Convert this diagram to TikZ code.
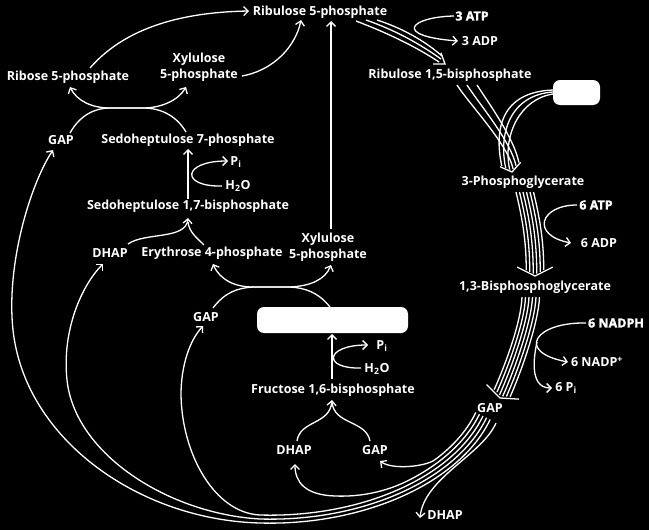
\documentclass[tikz,border=0pt]{standalone}
\usepackage{fontspec}
\setmainfont{Open Sans}
\newfontfamily\heavyfont[BoldFeatures={FakeBold=1.5}]{Open Sans}
\usetikzlibrary{arrows.meta}
\newcommand\vhead[4]{\draw[ln] (#1) +(#2:#4) -- (#1) -- +(#3:#4);}
\begin{document}
\begin{tikzpicture}[x=1pt,y=-1pt,
  ln/.style={draw=white, line width=1.3pt},
  arr/.style={ln, -{Straight Barb[length=4.5pt,width=9pt]}},
  lbl/.style={text=white, inner sep=0pt, font=\bfseries\fontsize{12.5}{16}\selectfont},
  hv/.style={text=white, inner sep=0pt, font=\heavyfont\bfseries\fontsize{12.5}{16}\selectfont},
  blank/.style={fill=white, rounded corners=7pt, inner sep=0pt}]
\fill[black] (0,0) rectangle (649,530);
\useasboundingbox (0,0) rectangle (649,530);

% labels
\node[lbl] (ru5p) at (320,12) {Ribulose 5-phosphate};
\node[hv] (atp3) at (472,16) {3 ATP};
\node[lbl] (adp3) at (480,41) {3 ADP};
\node[lbl] (rubp) at (450,75) {Ribulose 1,5-bisphosphate};
\node[blank, minimum width=47pt, minimum height=25pt] (co2) at (576.5,92.5) {};
\node[lbl] (r5p) at (68,77) {Ribose 5-phosphate};
\node[lbl, align=center] (xu5pA) at (199,67) {Xylulose\\5-phosphate};
\node[lbl] (gapA) at (61,140) {GAP};
\node[lbl] (s7p) at (188,140) {Sedoheptulose 7-phosphate};
\node[lbl] (piA) at (236,162) {P\textsubscript{i}};
\node[lbl] (h2oA) at (238,186) {H\textsubscript{2}O};
\node[lbl] (sbp) at (188,206) {Sedoheptulose 1,7-bisphosphate};
\node[lbl] (dhapA) at (110,253) {DHAP};
\node[lbl] (e4p) at (212,253) {Erythrose 4-phosphate};
\node[lbl, align=center] (xu5pB) at (328,247) {Xylulose\\5-phosphate};
\node[lbl] (gapB) at (206,317) {GAP};
\node[blank, minimum width=151pt, minimum height=26pt] (f6p) at (332.5,320) {};
\node[lbl] (piB) at (382,346) {P\textsubscript{i}};
\node[lbl] (h2oB) at (377,369) {H\textsubscript{2}O};
\node[lbl] (fbp) at (333,390) {Fructose 1,6-bisphosphate};
\node[lbl] (dhapB) at (294,450) {DHAP};
\node[lbl] (gapC) at (375,450) {GAP};
\node[lbl] (dhapOut) at (445,515) {DHAP};
\node[lbl] (gapR) at (490,408) {GAP};
\node[lbl] (pga) at (523,182) {3-Phosphoglycerate};
\node[hv] (atp6) at (596,205) {6 ATP};
\node[lbl] (adp6) at (599,243) {6 ADP};
\node[lbl] (bpg) at (535,287) {1,3-Bisphosphoglycerate};
\node[hv] (nadph) at (616,323) {6 NADPH};
\node[lbl] (nadp) at (597,362) {6 NADP\textsuperscript{+}};
\node[lbl] (pi6) at (566,388) {6 P\textsubscript{i}};

% Ru5P -> RuBP (triple)
\draw[ln] (356,21) .. controls (385,32) and (415,46) .. (439,62);
\draw[ln] (366,20) .. controls (395,30) and (420,44) .. (441,59);
\draw[ln] (377,20) .. controls (402,28) and (425,41) .. (442,56);
\vhead{445,64}{250}{180}{12}
\draw[arr] (454,16) .. controls (410,17) and (392,36) .. (458,41);

% RuBP + rect -> 3PG
\draw[ln] (457,85) .. controls (470,105) and (507.9,144.4) .. (513.1,168.9);
\draw[ln] (467,85) .. controls (480,105) and (510.8,141.2) .. (516.0,165.7);
\draw[ln] (477,85) .. controls (490,105) and (513.7,137.9) .. (518.9,162.4);
\draw[ln] (553,90) .. controls (500,92) and (494.2,130.8) .. (501.8,166.1);
\draw[ln] (553,92) .. controls (510,95) and (498.3,133.6) .. (505.7,167.9);
\draw[ln] (553,94) .. controls (520,99) and (502.3,135.3) .. (509.7,169.6);
\vhead{512,172}{203.9}{311.9}{13}

% 3PG -> BPG
\draw[ln] (516,192) .. controls (522,217) and (526.25,240) .. (526.25,270.1);
\draw[ln] (519.5,192) .. controls (525.5,217) and (529.75,240) .. (529.75,271.9);
\draw[ln] (523,192) .. controls (529,217) and (533.25,240) .. (533.25,273.6);
\draw[ln] (526.5,192) .. controls (532.5,217) and (536.75,240) .. (536.75,273.6);
\draw[ln] (530,192) .. controls (536,217) and (540.25,240) .. (540.25,271.9);
\draw[ln] (533.5,192) .. controls (539.5,217) and (543.75,240) .. (543.75,270.1);
\vhead{535,276}{206.6}{333.4}{20}
\draw[arr] (577,205) .. controls (540,205) and (530,235) .. (571,243);

% BPG -> GAP
\draw[ln] (522,297) .. controls (521,322) and (506.2,362.6) .. (494.2,389.6);
\draw[ln] (525.5,297) .. controls (524.5,322) and (508.9,365.2) .. (496.9,392.2);
\draw[ln] (529,297) .. controls (528,322) and (511.5,367.9) .. (499.5,394.9);
\draw[ln] (532.5,297) .. controls (531.5,322) and (514.7,369.3) .. (502.7,396.3);
\draw[ln] (536,297) .. controls (535,322) and (518.4,369.5) .. (506.4,396.5);
\draw[ln] (539.5,297) .. controls (538.5,322) and (522.1,369.8) .. (510.1,396.8);
\vhead{500,398}{225}{3.4}{19}
\draw[arr] (586,323) .. controls (535,322) and (515,352) .. (568,362);
\draw[arr] (537,342) .. controls (532,365) and (532,388) .. (552,388);

% GAP bundle
\draw[arr] (475.8,412.5) .. controls (467.2,430.3) and (453.2,446.2) .. (435.1,459.6)
  .. controls (425.5,466.8) and (392,470) .. (380,461);
\draw[arr] (479.4,414.3) .. controls (466.15,441.4) and (440.5,464.4) .. (407.3,481)
  .. controls (385,492) and (360,497) .. (335,496) .. controls (305,495) and (295,482) .. (295,464);
\draw[arr] (483,416) .. controls (453,478) and (360,518) .. (260,515)
  .. controls (215,513) and (182,455) .. (181,395) .. controls (181,365) and (190,340) .. (203,326);
\draw[arr] (486.6,417.7) .. controls (455.95,481.1) and (360.8,522) .. (260,519)
  .. controls (170,514) and (75,455) .. (67,380) .. controls (61.7,330) and (82,285) .. (103,264);
\draw[arr] (490.2,419.5) .. controls (458.9,484.2) and (361.5,526) .. (259.8,523)
  .. controls (140,520) and (25,440) .. (13,330) .. controls (6,265) and (30,185) .. (53,150);
\draw[arr] (496,423) .. controls (482,455) and (424,478) .. (420,518);

% top left
\draw[arr] (90,68) .. controls (130,22) and (195,12) .. (249,11);
\draw[arr] (242,76) .. controls (275,70) and (296,45) .. (301,20);
\draw[arr] (331,229) -- (331,21);
\draw[arr] (70,133) .. controls (80,115) and (95,108) .. (110,108) -- (143,108)
  .. controls (160,108) and (178,101) .. (186,87);
\draw[arr] (186,132) .. controls (176,115) and (160,108) .. (143,108) -- (110,108)
  .. controls (92,108) and (77,101) .. (70,87);
\draw[arr] (188,199) -- (188,149);
\draw[arr] (222,186) .. controls (180,187) and (182,161) .. (228,161);
\draw[arr] (128,244) .. controls (145,232) and (186,240) .. (188,218);
\draw[ln] (204,245) .. controls (197,238) and (189,232) .. (188,222);

% middle
\draw[arr] (213,308) .. controls (225,292) and (238,288) .. (253,287) -- (290,287)
  .. controls (310,286) and (325,280) .. (331,265);
\draw[arr] (330,307) .. controls (318,292) and (305,288) .. (290,287) -- (253,287)
  .. controls (235,287) and (220,280) .. (213,264);
\draw[arr] (332,379) -- (332,334);
\draw[arr] (361,368) .. controls (322,369) and (325,345) .. (368,345);
\draw[arr] (297,441) .. controls (300,420) and (330,425) .. (332,400);
\draw[ln] (370,441) .. controls (366,420) and (334,425) .. (332,402);
\end{tikzpicture}
\end{document}
